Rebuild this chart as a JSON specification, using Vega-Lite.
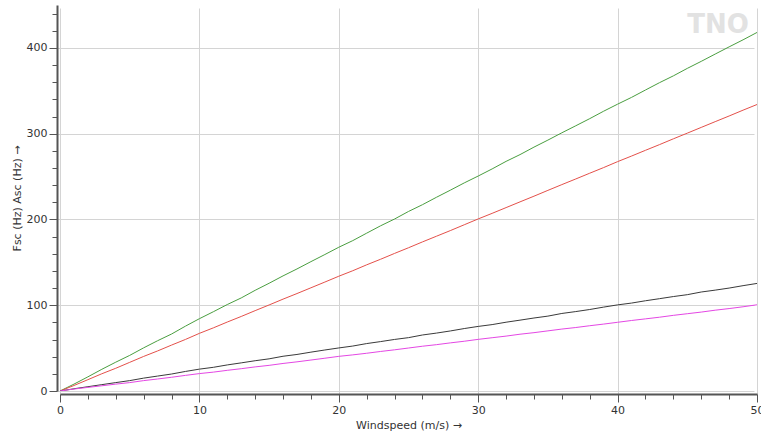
{
  "$schema": "https://vega.github.io/schema/vega-lite/v6.json",
  "width": 697,
  "height": 386,
  "autosize": {"type": "none"},
  "padding": {"left": 60, "top": 5, "right": 4, "bottom": 49},
  "background": "white",
  "config": {
    "view": {"stroke": null},
    "font": "DejaVu Sans",
    "axis": {
      "labelFont": "DejaVu Sans",
      "titleFont": "DejaVu Sans",
      "labelFontSize": 11,
      "titleFontSize": 11,
      "titleFontWeight": "normal",
      "labelColor": "#333333",
      "titleColor": "#333333",
      "domainColor": "#555555",
      "domainWidth": 2,
      "tickColor": "#555555",
      "tickWidth": 1,
      "gridColor": "#d4d4d4",
      "gridWidth": 1,
      "offset": 3,
      "labelOverlap": false
    }
  },
  "layer": [
    {
      "data": {"values": [
        {"w":0,"g":0,"r":0,"k":0,"m":0},
        {"w":1,"g":8.0,"r":6.4,"k":2.6,"m":2.3},
        {"w":2,"g":16.5,"r":13.2,"k":5.0,"m":4.2},
        {"w":3,"g":25.3,"r":20.1,"k":7.4,"m":6.1},
        {"w":4,"g":33.6,"r":26.5,"k":9.8,"m":8.0},
        {"w":5,"g":41.5,"r":33.4,"k":12.1,"m":9.8},
        {"w":6,"g":50.3,"r":40.3,"k":15.0,"m":12.1},
        {"w":7,"g":58.6,"r":46.7,"k":17.4,"m":14.0},
        {"w":8,"g":66.4,"r":53.5,"k":19.8,"m":16.0},
        {"w":9,"g":75.6,"r":60.1,"k":22.8,"m":18.2},
        {"w":10,"g":84.3,"r":67.2,"k":25.5,"m":20.3},
        {"w":11,"g":92.4,"r":73.6,"k":27.6,"m":22.0},
        {"w":12,"g":100.8,"r":80.4,"k":30.4,"m":24.1},
        {"w":13,"g":108.5,"r":86.9,"k":32.8,"m":26.0},
        {"w":14,"g":117.4,"r":93.7,"k":35.3,"m":28.1},
        {"w":15,"g":125.6,"r":100.3,"k":37.5,"m":29.9},
        {"w":16,"g":134.2,"r":107.1,"k":40.5,"m":32.1},
        {"w":17,"g":142.3,"r":113.6,"k":42.6,"m":34.0},
        {"w":18,"g":150.8,"r":120.3,"k":45.3,"m":36.1},
        {"w":19,"g":159.1,"r":127.0,"k":47.8,"m":38.2},
        {"w":20,"g":167.6,"r":133.8,"k":50.2,"m":40.4},
        {"w":21,"g":175.3,"r":140.2,"k":52.4,"m":42.1},
        {"w":22,"g":184.0,"r":147.1,"k":55.3,"m":44.0},
        {"w":23,"g":192.6,"r":153.6,"k":57.6,"m":46.1},
        {"w":24,"g":200.5,"r":160.4,"k":60.1,"m":48.0},
        {"w":25,"g":209.3,"r":167.0,"k":62.2,"m":50.1},
        {"w":26,"g":217.2,"r":173.8,"k":65.3,"m":52.2},
        {"w":27,"g":225.8,"r":180.4,"k":67.5,"m":54.0},
        {"w":28,"g":234.1,"r":187.0,"k":70.0,"m":56.1},
        {"w":29,"g":242.6,"r":193.8,"k":72.8,"m":58.0},
        {"w":30,"g":250.6,"r":200.6,"k":75.3,"m":60.2},
        {"w":31,"g":258.9,"r":207.1,"k":77.4,"m":62.1},
        {"w":32,"g":267.7,"r":213.8,"k":80.2,"m":64.0},
        {"w":33,"g":275.6,"r":220.5,"k":82.6,"m":66.2},
        {"w":34,"g":284.3,"r":227.1,"k":85.1,"m":68.0},
        {"w":35,"g":292.5,"r":233.9,"k":87.3,"m":70.1},
        {"w":36,"g":301.0,"r":240.6,"k":90.4,"m":72.2},
        {"w":37,"g":309.2,"r":247.2,"k":92.6,"m":74.0},
        {"w":38,"g":317.5,"r":253.9,"k":95.0,"m":76.1},
        {"w":39,"g":326.2,"r":260.5,"k":97.8,"m":78.0},
        {"w":40,"g":334.4,"r":267.4,"k":100.4,"m":80.1},
        {"w":41,"g":342.3,"r":273.9,"k":102.5,"m":82.2},
        {"w":42,"g":350.9,"r":280.6,"k":105.2,"m":84.1},
        {"w":43,"g":359.4,"r":287.2,"k":107.6,"m":86.0},
        {"w":44,"g":367.4,"r":294.0,"k":110.1,"m":88.2},
        {"w":45,"g":376.1,"r":300.6,"k":112.3,"m":90.1},
        {"w":46,"g":384.3,"r":307.3,"k":115.4,"m":92.0},
        {"w":47,"g":392.8,"r":314.0,"k":117.6,"m":94.2},
        {"w":48,"g":401.2,"r":320.6,"k":120.0,"m":96.1},
        {"w":49,"g":409.4,"r":327.4,"k":122.8,"m":98.2},
        {"w":50,"g":418.0,"r":334.0,"k":125.4,"m":100.5}
      ]},
      "transform": [{"fold": ["g", "r", "k", "m"], "as": ["series", "value"]}],
      "mark": {"type": "line", "strokeWidth": 1, "clip": true},
      "encoding": {
        "x": {
          "field": "w", "type": "quantitative",
          "scale": {"domain": [0, 50], "nice": false, "zero": true},
          "axis": {
            "title": "Windspeed (m/s) →",
            "values": [0,2,4,6,8,10,12,14,16,18,20,22,24,26,28,30,32,34,36,38,40,42,44,46,48,50],
            "tickCount": 200,
            "format": "d",
            "labelExpr": "datum.value % 10 === 0 ? datum.label : ''",
            "tickSize": {"condition": {"test": "datum.value % 10 === 0", "value": 8}, "value": 5},
            "gridOpacity": {"condition": {"test": "datum.value % 10 === 0", "value": 1}, "value": 0},
            "labelPadding": 2,
            "titlePadding": 4,
            "labelFlush": false
          }
        },
        "y": {
          "field": "value", "type": "quantitative",
          "scale": {"domain": [0, 450], "nice": false},
          "axis": {
            "title": "Fsc (Hz) Asc (Hz) →",
            "values": [0,20,40,60,80,100,120,140,160,180,200,220,240,260,280,300,320,340,360,380,400,420,440],
            "tickCount": 200,
            "format": "d",
            "labelExpr": "datum.value % 100 === 0 ? datum.label : ''",
            "tickSize": {"condition": {"test": "datum.value % 100 === 0", "value": 8}, "value": 5},
            "gridOpacity": {"condition": {"test": "datum.value % 100 === 0", "value": 1}, "value": 0},
            "labelPadding": 2,
            "titlePadding": 4
          }
        },
        "color": {
          "field": "series", "type": "nominal",
          "scale": {"domain": ["g", "r", "k", "m"], "range": ["#4a9e40", "#e4504a", "#3a3a3a", "#e447e4"]},
          "legend": null
        }
      }
    },
    {
      "data": {"values": [{"w": 47.2, "v": 427, "t": "TNO"}]},
      "mark": {"type": "text", "fontSize": 26, "fontWeight": "bold", "font": "DejaVu Sans", "color": "#e2e2e2", "baseline": "middle", "align": "center"},
      "encoding": {
        "x": {"field": "w", "type": "quantitative"},
        "y": {"field": "v", "type": "quantitative"},
        "text": {"field": "t"}
      }
    }
  ]
}
